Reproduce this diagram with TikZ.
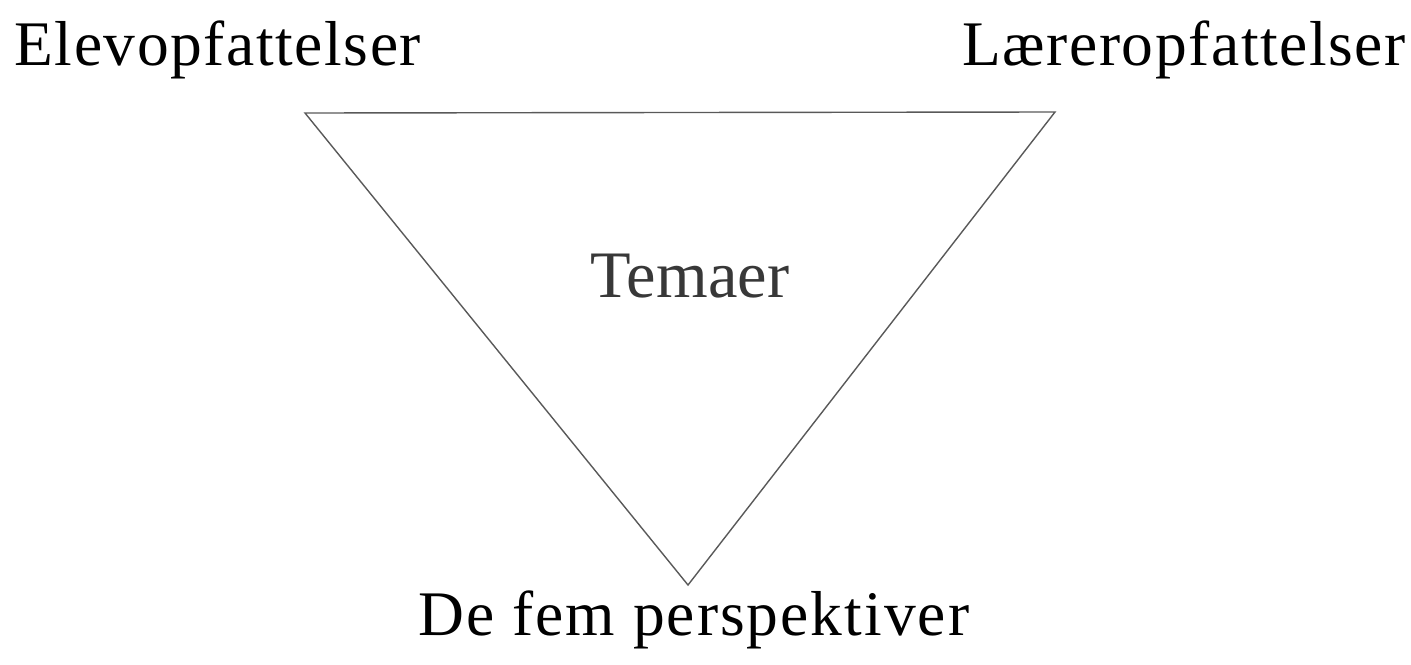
\documentclass[tikz,border=0pt]{standalone}
\usepackage{fontspec}
\setmainfont{Liberation Serif}
\newfontfamily\spaced[LetterSpace=2.5]{Liberation Serif}
\newfontfamily\spacedb[LetterSpace=3.2]{Liberation Serif}
\begin{document}
\begin{tikzpicture}[x=0.5pt,y=-0.5pt,
  lbl/.style={inner sep=0pt,anchor=base west,font=\fontsize{31.75}{36}\spaced},
  mid/.style={inner sep=0pt,anchor=base,text=black!78,font=\fontsize{33.2}{36}\selectfont},
  edge/.style={draw=black!65,line width=0.7pt}]
\useasboundingbox (0,0) rectangle (1411,664);
\coordinate (tl) at (305,113);
\coordinate (tr) at (1055,112);
\coordinate (bt) at (688,585);
\draw[edge] (tl) -- (tr) -- (bt) -- cycle;
\node[lbl] (elev) at (14,65) {Elevopfattelser};
\node[lbl] (laer) at (962,65) {Læreropfattelser};
\node[lbl,font=\fontsize{31.75}{36}\spacedb] (fem) at (418,635) {De fem perspektiver};
\node[mid] (tem) at (690,297) {Temaer};
\end{tikzpicture}
\end{document}
